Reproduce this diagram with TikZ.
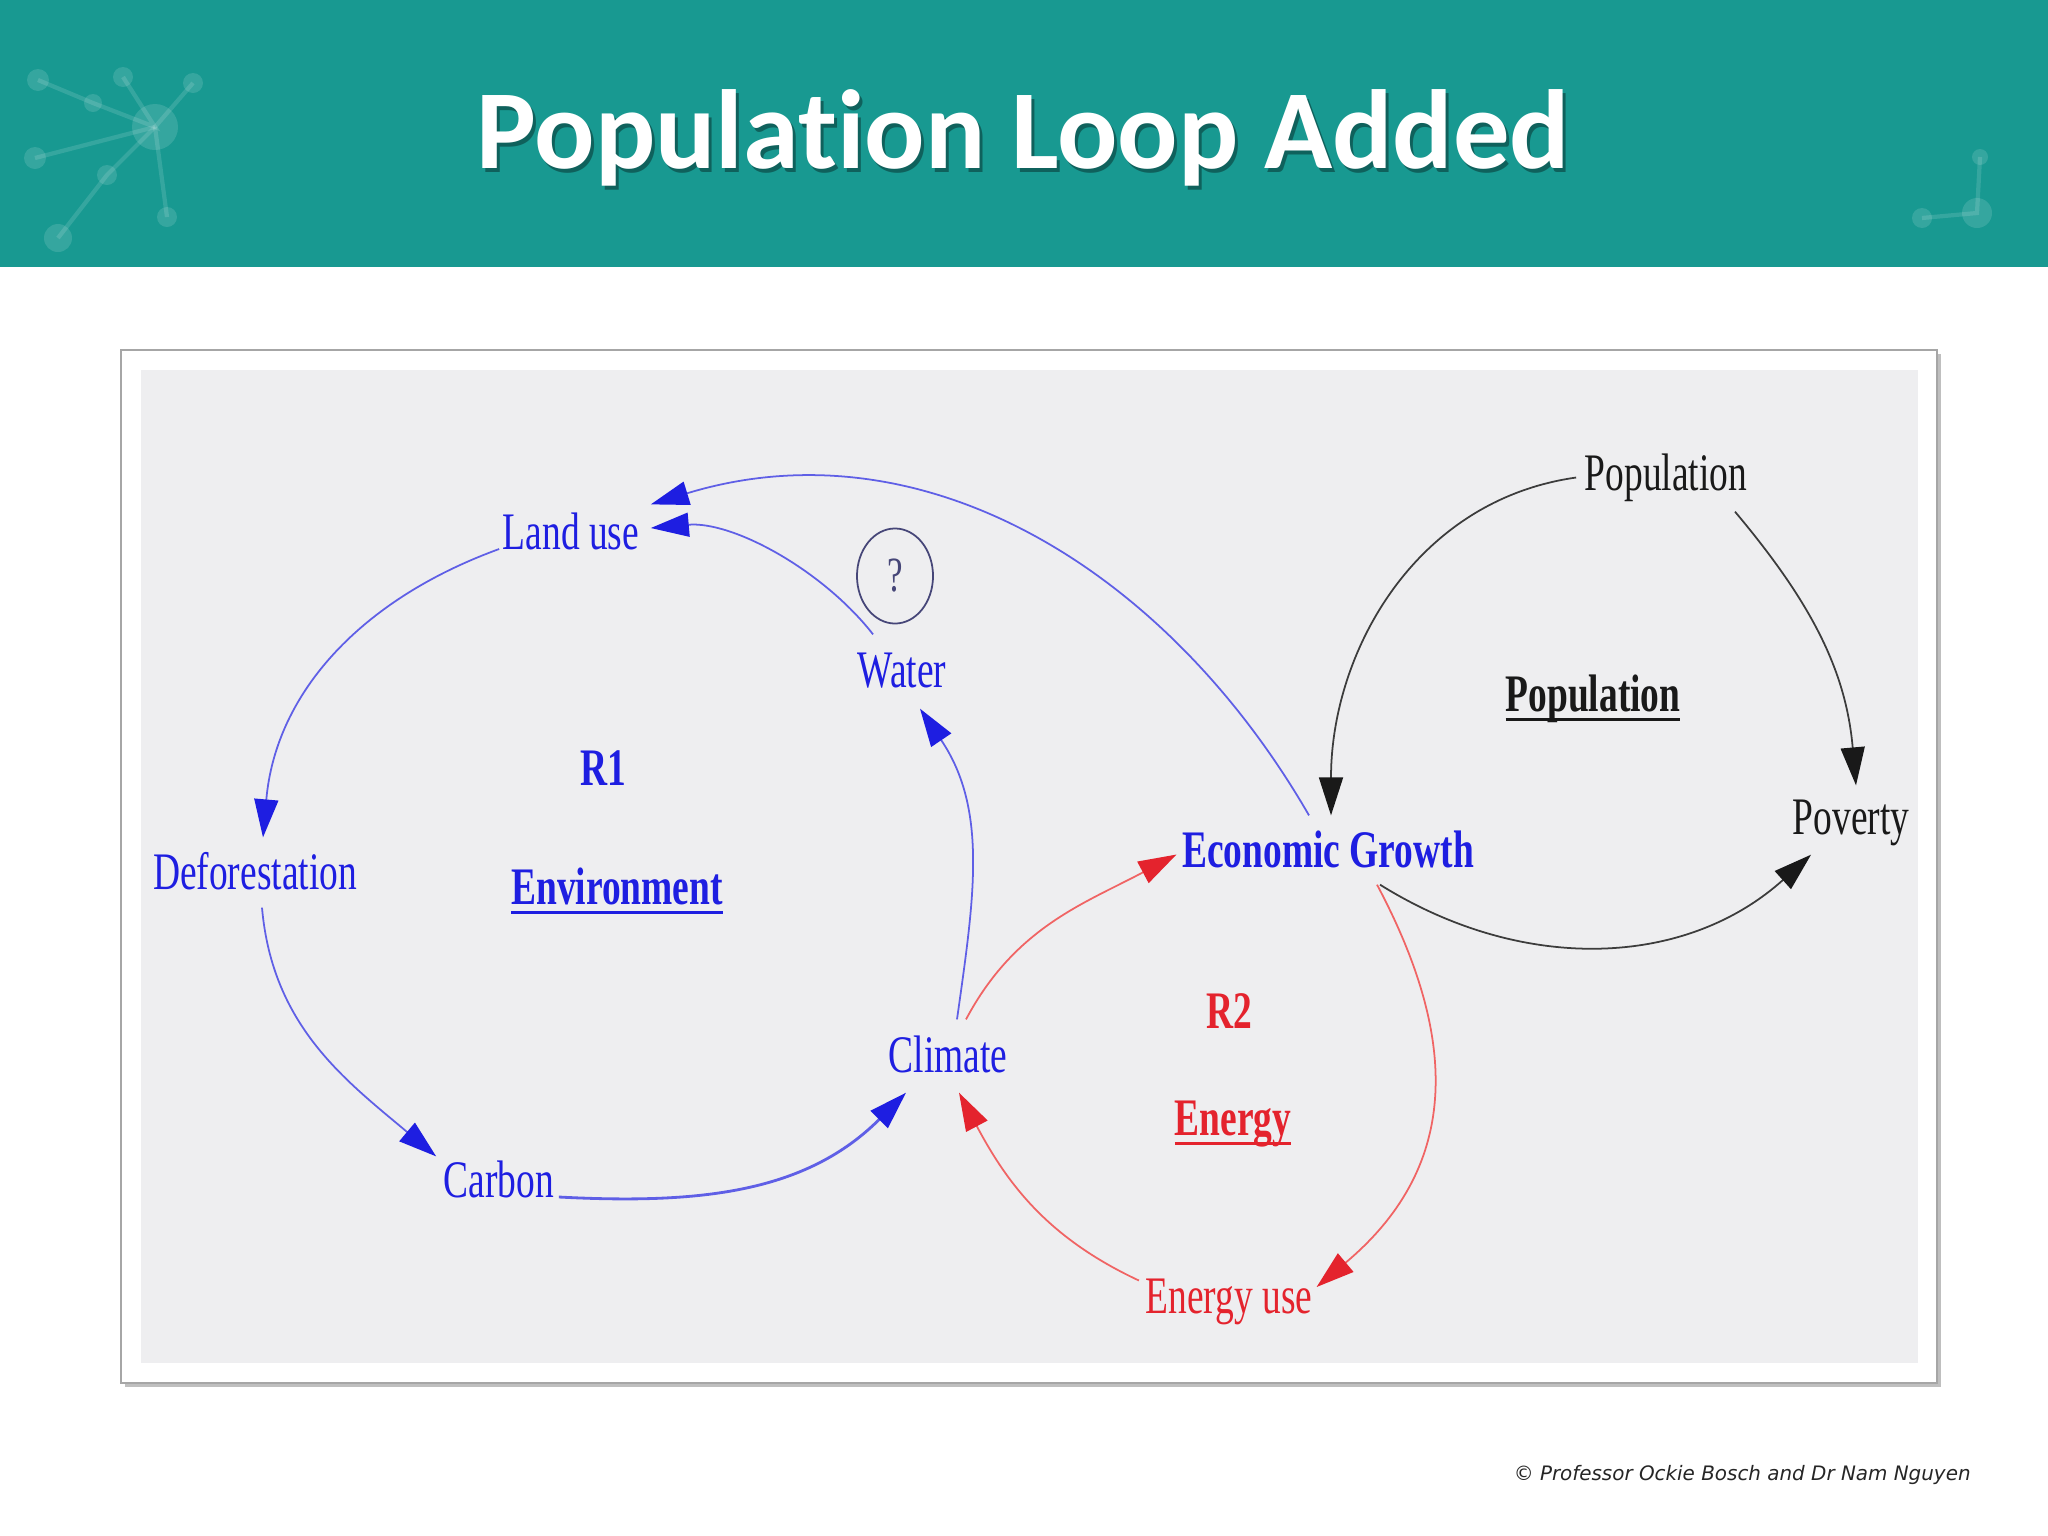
\documentclass[tikz,border=0pt]{standalone}
\usepackage{fontspec}
\usetikzlibrary{arrows.meta,shapes.geometric}
\newfontfamily\cldfont[FakeStretch=0.71]{Liberation Serif}
\newfontfamily\titlefont[RawFeature={-liga;-clig;-calt}]{Carlito}
\newfontfamily\notefont{DejaVu Sans}
\definecolor{tyrkys}{RGB}{24,153,145}
\definecolor{modra}{RGB}{30,30,225}
\definecolor{modracara}{RGB}{95,95,230}
\definecolor{cervena}{RGB}{228,35,45}
\definecolor{cervenacara}{RGB}{240,100,100}
\definecolor{cerna}{RGB}{25,25,25}
\definecolor{otaznik}{RGB}{70,70,120}
\definecolor{pozadi}{RGB}{238,238,240}
\newcommand{\podtrzeni}[1]{\setbox0\hbox{#1}\rlap{\rule[-2.7pt]{\wd0}{0.8pt}}\box0}

\begin{document}
\begin{tikzpicture}[x=0.01cm,y=0.01cm,
    popis/.style={font=\cldfont\fontsize{15pt}{18pt}\selectfont,inner sep=0pt,anchor=base,text height=10.5pt,text depth=3.4pt},
    sipka/.style={line width=0.5pt,-{Triangle[length=0.38cm,width=0.24cm,color=#1]}},
    modrasipka/.style={sipka=modra,draw=modracara},
    cervenasipka/.style={sipka=cervena,draw=cervenacara},
    cernasipka/.style={sipka=cerna,draw=cerna!85},
    ikona/.style={white,opacity=0.13}]
    \useasboundingbox (0,0) rectangle (2048,-1536);
    \fill[white] (0,0) rectangle (2048,-1536);

    \fill[tyrkys] (0,0) rectangle (2048,-267);
    \draw[ikona,line width=1.2pt] (38,-80) -- (93,-103) -- (155,-127) -- (123,-77);
    \draw[ikona,line width=1.2pt] (155,-127) -- (193,-83);
    \draw[ikona,line width=1.2pt] (155,-127) -- (35,-158);
    \draw[ikona,line width=1.2pt] (155,-127) -- (107,-175) -- (58,-238);
    \draw[ikona,line width=1.2pt] (155,-127) -- (167,-217);
    \fill[ikona] (155,-127) circle (23) (38,-80) circle (11) (93,-103) circle (9) (123,-77) circle (10) (193,-83) circle (10) (35,-158) circle (11) (107,-175) circle (10) (167,-217) circle (10) (58,-238) circle (14);
    \draw[ikona,line width=1.2pt] (1980,-157) -- (1977,-213) -- (1922,-218);
    \fill[ikona] (1977,-213) circle (15) (1980,-157) circle (8) (1922,-218) circle (10);

    \node[anchor=base,font=\titlefont\bfseries\fontsize{32pt}{38pt}\selectfont,text=black!60!tyrkys,opacity=0.6] at (1026,-172) {Population Loop Added};
    \node[anchor=base,font=\titlefont\bfseries\fontsize{32pt}{38pt}\selectfont,text=white] (nadpis) at (1023,-168) {Population Loop Added};

    \fill[black!25] (125,-354) rectangle (1941,-1387);
    \filldraw[fill=white,draw=black!35,line width=0.6pt] (121,-350) rectangle (1937,-1383);
    \fill[pozadi] (141,-370) rectangle (1918,-1363);

    \node[popis,modra] (landuse) at (571,-549) {Land use};
    \node[popis,modra] (water) at (902,-687) {Water};
    \node[draw=otaznik,ellipse,minimum width=0.76cm,minimum height=0.95cm,inner sep=0pt,line width=0.5pt,text=otaznik,font=\cldfont\fontsize{14pt}{16pt}\selectfont] (otaz) at (895,-576) {?};
    \node[popis,modra] (defor) at (255,-889) {Deforestation};
    \node[popis,modra] (r1) at (603,-785) {\bfseries R1};
    \node[popis,modra] (env) at (617,-904) {\bfseries\podtrzeni{Environment}};
    \node[popis,modra] (carbon) at (499,-1197) {Carbon};
    \node[popis,modra] (climate) at (948,-1072) {Climate};
    \node[popis,modra] (econ) at (1328,-867) {\bfseries Economic Growth};
    \node[popis,cervena] (r2) at (1229,-1028) {\bfseries R2};
    \node[popis,cervena] (energy) at (1233,-1135) {\bfseries\podtrzeni{Energy}};
    \node[popis,cervena] (energyuse) at (1229,-1313) {Energy use};
    \node[popis,cerna] (poptop) at (1666,-490) {Population};
    \node[popis,cerna] (popl) at (1593,-711) {\bfseries\podtrzeni{Population}};
    \node[popis,cerna] (poverty) at (1851,-834) {Poverty};

    \draw[modrasipka] ([shift={(-3,0)}]landuse.base west) to[out=200,in=85] ([shift={(8,14)}]defor.north);
    \draw[modrasipka] ([shift={(7,-6)}]defor.south) to[out=275,in=140] ([shift={(-7,3)}]carbon.north west);
    \draw[modrasipka,line width=0.8pt] ([shift={(4,0)}]carbon.base east) to[out=-3,in=225] ([shift={(18,-8)}]climate.south west);
    \draw[modrasipka] ([shift={(9,15)}]climate.north) to[out=82,in=-56] ([shift={(18,-9)}]water.south);
    \draw[modrasipka] ([shift={(16,15)}]water.north west) to[out=128,in=5,looseness=0.85] ([shift={(11,8.5)}]landuse.east);
    \draw[modrasipka] ([shift={(-19,14)}]econ.north) to[out=120,in=17] ([shift={(11,7)}]landuse.north east);

    \draw[cervenasipka] ([shift={(18,15)}]climate.north) to[out=62,in=208] ([shift={(-5,0)}]econ.west);
    \draw[cervenasipka] ([shift={(49,-5)}]econ.south) to[out=-62,in=40,looseness=1.15] ([shift={(3.5,13.5)}]energyuse.east);
    \draw[cervenasipka] ([shift={(-6,20)}]energyuse.west) to[out=155,in=-62] ([shift={(11,-8)}]climate.south);

    \draw[cernasipka] ([shift={(-8,0)}]poptop.west) to[out=188,in=90] ([shift={(3,14)}]econ.north);
    \draw[cernasipka] ([shift={(69,-9)}]poptop.south) to[out=-50,in=95] ([shift={(5,11)}]poverty.north);
    \draw[cernasipka] ([shift={(52,-5)}]econ.south) to[out=-32,in=222] ([shift={(19,-8)}]poverty.south west);

    \node[anchor=base east,font=\notefont\itshape\fontsize{5.66pt}{7pt}\selectfont,text=black!85] (autori) at (1983,-1480) {© Professor Ockie Bosch and Dr Nam Nguyen};
\end{tikzpicture}
\end{document}
